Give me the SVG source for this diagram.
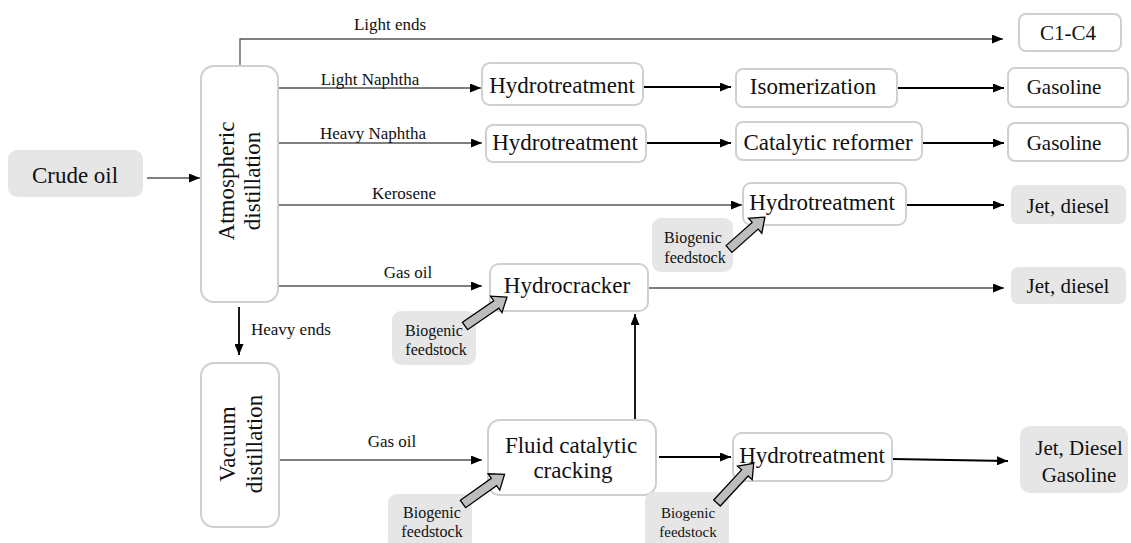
<svg xmlns="http://www.w3.org/2000/svg" width="1131" height="543" viewBox="0 0 1131 543" font-family="'Liberation Serif', 'Times New Roman', 'DejaVu Serif', serif">
<style>
text{font-family:'Liberation Serif','Times New Roman','DejaVu Serif',serif;fill:#111;}
.n{font-size:23px;text-anchor:middle;}
.o{font-size:21px;text-anchor:middle;}
.l{font-size:17px;text-anchor:middle;}
.b{font-size:16px;text-anchor:middle;}
.w{fill:#fff;stroke:#d0d0d0;stroke-width:2;}
.g{fill:#e6e6e6;stroke:none;}
.c1{stroke:#555;stroke-width:1.3;fill:none;}
.c2{stroke:#000;stroke-width:1.8;fill:none;}
.ba{fill:#bdbdbd;stroke:#000;stroke-width:1.3;}
</style>
<defs>
<marker id="ah" markerUnits="userSpaceOnUse" markerWidth="11" markerHeight="9" refX="11" refY="4.5" orient="auto">
<path d="M0,0 L11,4.5 L0,9 Z" fill="#000"/>
</marker>
</defs>
<g id="connectors">
<line class="c1" x1="147" y1="178" x2="200" y2="178" marker-end="url(#ah)"/>
<polyline class="c1" points="240,66 240,39 1003,39" marker-end="url(#ah)"/>
<line class="c1" x1="278" y1="88" x2="481" y2="88" marker-end="url(#ah)"/>
<line class="c2" x1="643" y1="87" x2="731" y2="87" marker-end="url(#ah)"/>
<line class="c2" x1="897" y1="88" x2="1004" y2="88" marker-end="url(#ah)"/>
<line class="c1" x1="278" y1="143" x2="482" y2="143" marker-end="url(#ah)"/>
<line class="c2" x1="646" y1="143" x2="731" y2="143" marker-end="url(#ah)"/>
<line class="c2" x1="922" y1="143" x2="1004" y2="143" marker-end="url(#ah)"/>
<line class="c1" x1="278" y1="205" x2="742" y2="205" marker-end="url(#ah)"/>
<line class="c2" x1="906" y1="205" x2="1004" y2="205" marker-end="url(#ah)"/>
<line class="c1" x1="278" y1="286" x2="482" y2="286" marker-end="url(#ah)"/>
<line class="c1" x1="648" y1="288" x2="1004" y2="288" marker-end="url(#ah)"/>
<line class="c2" x1="239" y1="307" x2="239" y2="355" marker-end="url(#ah)"/>
<line class="c1" x1="279" y1="460" x2="482" y2="460" marker-end="url(#ah)"/>
<line class="c2" x1="635" y1="420" x2="635" y2="314" marker-end="url(#ah)"/>
<line class="c2" x1="659" y1="457" x2="731" y2="457" marker-end="url(#ah)"/>
<line class="c2" x1="892" y1="459" x2="1008" y2="461" marker-end="url(#ah)"/>
<text class="l" x="390" y="30">Light ends</text>
<text class="l" x="370" y="85">Light Naphtha</text>
<text class="l" x="373" y="139">Heavy Naphtha</text>
<text class="l" x="404" y="199">Kerosene</text>
<text class="l" x="408" y="278">Gas oil</text>
<text class="l" x="251" y="335" style="text-anchor:start">Heavy ends</text>
<text class="l" x="392" y="447">Gas oil</text>
</g>
<g id="crude"><rect class="g" x="8" y="150" width="135" height="47" rx="9"/><text class="n" x="75" y="183">Crude oil</text></g>
<g id="atm"><rect class="w" x="201" y="66" width="77" height="236" rx="13"/>
<g transform="translate(240,181) rotate(-90)"><text class="n" x="0" y="-6">Atmospheric</text><text class="n" x="0" y="20">distillation</text></g></g>
<g id="vac"><rect class="w" x="201" y="363" width="78" height="164" rx="13"/>
<g transform="translate(240,444) rotate(-90)"><text class="n" x="0" y="-5">Vacuum</text><text class="n" x="0" y="22">distillation</text></g></g>
<g id="c1c4"><rect class="w" x="1019" y="14" width="102" height="37" rx="7"/><text class="o" x="1068" y="40">C1-C4</text></g>
<g id="ht1"><rect class="w" x="482" y="63" width="161" height="42" rx="8"/><text class="n" x="562" y="93">Hydrotreatment</text></g>
<g id="iso"><rect class="w" x="736" y="69" width="161" height="38" rx="7"/><text class="n" x="813" y="94">Isomerization</text></g>
<g id="gas1"><rect class="w" x="1008" y="68" width="120" height="39" rx="7"/><text class="o" x="1064" y="94">Gasoline</text></g>
<g id="ht2"><rect class="w" x="486" y="125" width="160" height="37" rx="7"/><text class="n" x="565" y="150">Hydrotreatment</text></g>
<g id="cat"><rect class="w" x="736" y="122" width="186" height="38" rx="7"/><text class="n" x="828" y="150">Catalytic reformer</text></g>
<g id="gas2"><rect class="w" x="1008" y="123" width="120" height="38" rx="7"/><text class="o" x="1064" y="150">Gasoline</text></g>
<g id="ht3"><rect class="w" x="743" y="183" width="163" height="42" rx="8"/><text class="n" x="822" y="210">Hydrotreatment</text></g>
<g id="jet1"><rect class="g" x="1011" y="185" width="115" height="39" rx="7"/><text class="o" x="1068" y="213">Jet, diesel</text></g>
<g id="hc"><rect class="w" x="490" y="264" width="158" height="47" rx="9"/><text class="n" x="567" y="293">Hydrocracker</text></g>
<g id="jet2"><rect class="g" x="1011" y="267" width="115" height="37" rx="7"/><text class="o" x="1068" y="293">Jet, diesel</text></g>
<g id="fcc"><rect class="w" x="488" y="420" width="168" height="75" rx="12"/><text class="n" x="571" y="453">Fluid catalytic</text><text class="n" x="573" y="478">cracking</text></g>
<g id="ht4"><rect class="w" x="733" y="433" width="159" height="48" rx="9"/><text class="n" x="812" y="463">Hydrotreatment</text></g>
<g id="jet3"><rect class="g" x="1020" y="426" width="108" height="67" rx="10"/><text class="o" x="1079" y="455">Jet, Diesel</text><text class="o" x="1079" y="482">Gasoline</text></g>
<g id="bio1"><rect class="g" x="652" y="218" width="81" height="54" rx="9"/><text class="b" x="693" y="243">Biogenic</text><text class="b" x="695" y="263">feedstock</text>
<path class="ba" transform="translate(729,249) rotate(-41.6)" d="M0,-4.5 H35 V-10 L48,0 L35,10 V4.5 H0 Z"/></g>
<g id="bio2"><rect class="g" x="392" y="311" width="84" height="54" rx="9"/><text class="b" x="434" y="336">Biogenic</text><text class="b" x="436" y="355">feedstock</text>
<path class="ba" transform="translate(465,326) rotate(-34.6)" d="M0,-4.5 H38 V-10 L51,0 L38,10 V4.5 H0 Z"/></g>
<g id="bio3"><rect class="g" x="388" y="494" width="84" height="55" rx="9"/><text class="b" x="432" y="518">Biogenic</text><text class="b" x="432" y="537">feedstock</text>
<path class="ba" transform="translate(463,504) rotate(-35.5)" d="M0,-4.5 H38 V-10 L51,0 L38,10 V4.5 H0 Z"/></g>
<g id="bio4"><rect class="g" x="645" y="492" width="84" height="57" rx="9"/><text class="b" x="688" y="518" style="font-size:15px">Biogenic</text><text class="b" x="688" y="537" style="font-size:15px">feedstock</text>
<path class="ba" transform="translate(717,503) rotate(-47.2)" d="M0,-4.5 H41 V-10 L54,0 L41,10 V4.5 H0 Z"/></g>
</svg>
